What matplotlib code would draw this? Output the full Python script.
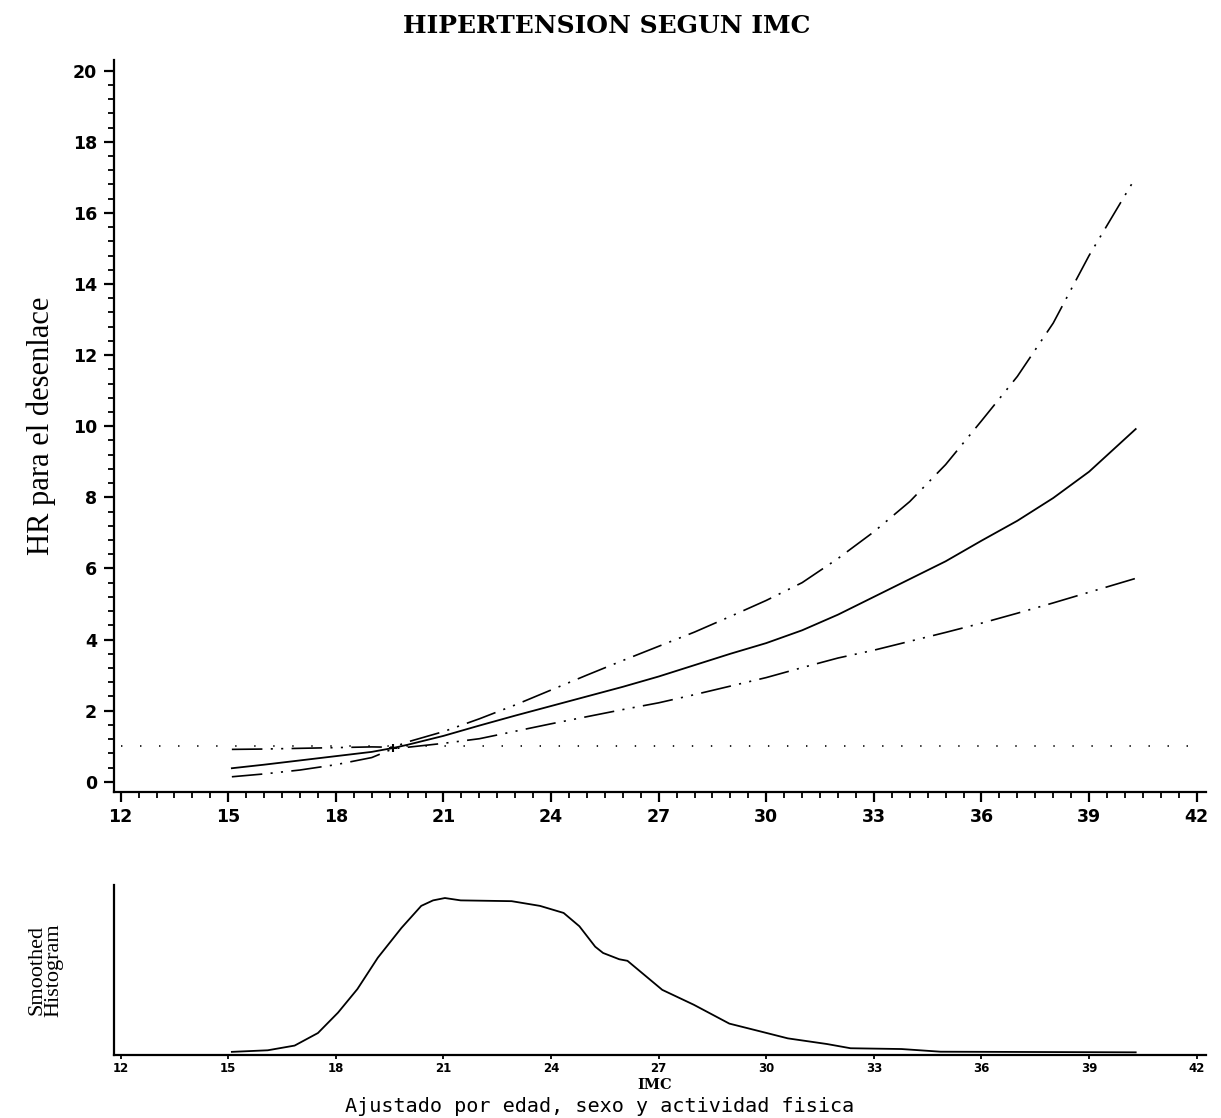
import matplotlib
matplotlib.use("Agg")
import matplotlib.pyplot as plt
from matplotlib.ticker import MultipleLocator

plt.rcParams['lines.scale_dashes'] = False

# HR estimado por IMC (curva central e IC 95%)
imc = [15.1, 16, 17, 18, 19, 19.6, 20, 21, 22, 23, 24, 25, 26, 27, 28, 29, 30,
       31, 32, 33, 34, 35, 36, 37, 38, 39, 40.3]
hr = [0.38, 0.48, 0.60, 0.72, 0.84, 0.95, 1.04, 1.29, 1.58, 1.86, 2.13, 2.40,
      2.67, 2.96, 3.28, 3.60, 3.90, 4.26, 4.70, 5.20, 5.70, 6.20, 6.78, 7.34,
      7.98, 8.72, 9.92]
hr_sup = [0.91, 0.92, 0.94, 0.96, 0.98, 0.97, 1.12, 1.41, 1.77, 2.16, 2.58, 3.00,
          3.41, 3.81, 4.21, 4.65, 5.10, 5.60, 6.28, 7.03, 7.88, 8.92, 10.15, 11.4,
          12.9, 14.8, 17.0]
hr_inf = [0.14, 0.22, 0.33, 0.48, 0.68, 0.93, 0.97, 1.08, 1.21, 1.42, 1.63, 1.83,
          2.03, 2.22, 2.45, 2.69, 2.93, 3.21, 3.48, 3.70, 3.95, 4.20, 4.46, 4.74,
          5.03, 5.33, 5.72]

# histograma suavizado de IMC (escala relativa)
imc_hist = [15.1, 16.1, 16.85, 17.5, 18.06, 18.6, 19.17, 19.83, 20.38, 20.71, 21.04,
            21.48, 22.9, 23.69, 24.35, 24.79, 25.23, 25.45, 25.9, 26.13, 27.1, 27.98,
            28.97, 29.84, 30.6, 31.69, 32.35, 33.77, 34.86, 40.3]
dens = [0.02, 0.03, 0.06, 0.14, 0.27, 0.42, 0.62, 0.81, 0.95, 0.985, 1.0,
        0.985, 0.98, 0.95, 0.905, 0.82, 0.69, 0.65, 0.61, 0.60, 0.415, 0.32,
        0.20, 0.15, 0.106, 0.07, 0.043, 0.038, 0.021, 0.017]

xticks = list(range(12, 43, 3))
yticks = list(range(0, 21, 2))

W, H = 1221, 1118
fig = plt.figure(figsize=(W / 100, H / 100), dpi=100)

x0, x1 = 11.8, 42.26
ax = fig.add_axes([113.5 / W, (H - 791.7) / H, 1092.5 / W, (791.7 - 60) / H])
ax2 = fig.add_axes([113.5 / W, (H - 1055) / H, 1092.5 / W, 170 / H])

dashdot2 = (0, (22, 6, 1.5, 6, 1.5, 6))
ax.plot([12, 42], [1, 1], color='black', lw=1.2, linestyle=(0, (1, 12.7)))
ax.plot(imc, hr, color='black', lw=1.3)
ax.plot(imc, hr_sup, color='black', lw=1.2, linestyle=dashdot2)
ax.plot(imc, hr_inf, color='black', lw=1.2, linestyle=dashdot2)
ax.plot([19.6], [0.95], marker='+', color='black', ms=6, mew=1.5)

ax.set_xlim(x0, x1)
ax.set_ylim(-0.28, 20.3)
ax.set_xticks(xticks)
ax.set_yticks(yticks)
ax.xaxis.set_minor_locator(MultipleLocator(0.5))
ax.yaxis.set_minor_locator(MultipleLocator(0.4))
for s in ['top', 'right']:
    ax.spines[s].set_visible(False)
for s in ['left', 'bottom']:
    ax.spines[s].set_linewidth(1.6)
ax.tick_params(which='major', length=7, width=1.6, direction='out', pad=5)
ax.tick_params(which='minor', length=4, width=1.3, direction='out')
for lab in ax.get_xticklabels() + ax.get_yticklabels():
    lab.set_family('DejaVu Sans')
    lab.set_fontweight('bold')
    lab.set_fontsize(12.5)

ax.set_ylabel('HR para el desenlace', family='Liberation Serif', fontsize=22,
              labelpad=12)
fig.text(0.497, 1 - 26 / H, 'HIPERTENSION SEGUN IMC', family='DejaVu Serif',
         fontsize=18, fontweight='bold', ha='center', va='center')

# panel inferior
ax2.plot(imc_hist, dens, color='black', lw=1.3)
ax2.set_xlim(x0, x1)
ax2.set_ylim(0, 1.083)
ax2.set_xticks(xticks)
ax2.set_yticks([])
for s in ['top', 'right']:
    ax2.spines[s].set_visible(False)
for s in ['left', 'bottom']:
    ax2.spines[s].set_linewidth(1.6)
ax2.tick_params(axis='x', length=3, width=1.3, pad=2)
for lab in ax2.get_xticklabels():
    lab.set_family('DejaVu Sans')
    lab.set_fontweight('bold')
    lab.set_fontsize(8.5)

ax2.set_ylabel('Smoothed\nHistogram', family='Liberation Serif', fontsize=16,
               linespacing=0.85, labelpad=36)
fig.text(655 / W, 1 - 1085 / H, 'IMC', family='DejaVu Serif', fontsize=10.5,
         fontweight='bold', ha='center', va='center')
fig.text(600 / W, 1 - 1106 / H, 'Ajustado por edad, sexo y actividad fisica',
         family='DejaVu Sans Mono', fontsize=14.5, ha='center', va='center')

fig.savefig('out.png', dpi=100)
